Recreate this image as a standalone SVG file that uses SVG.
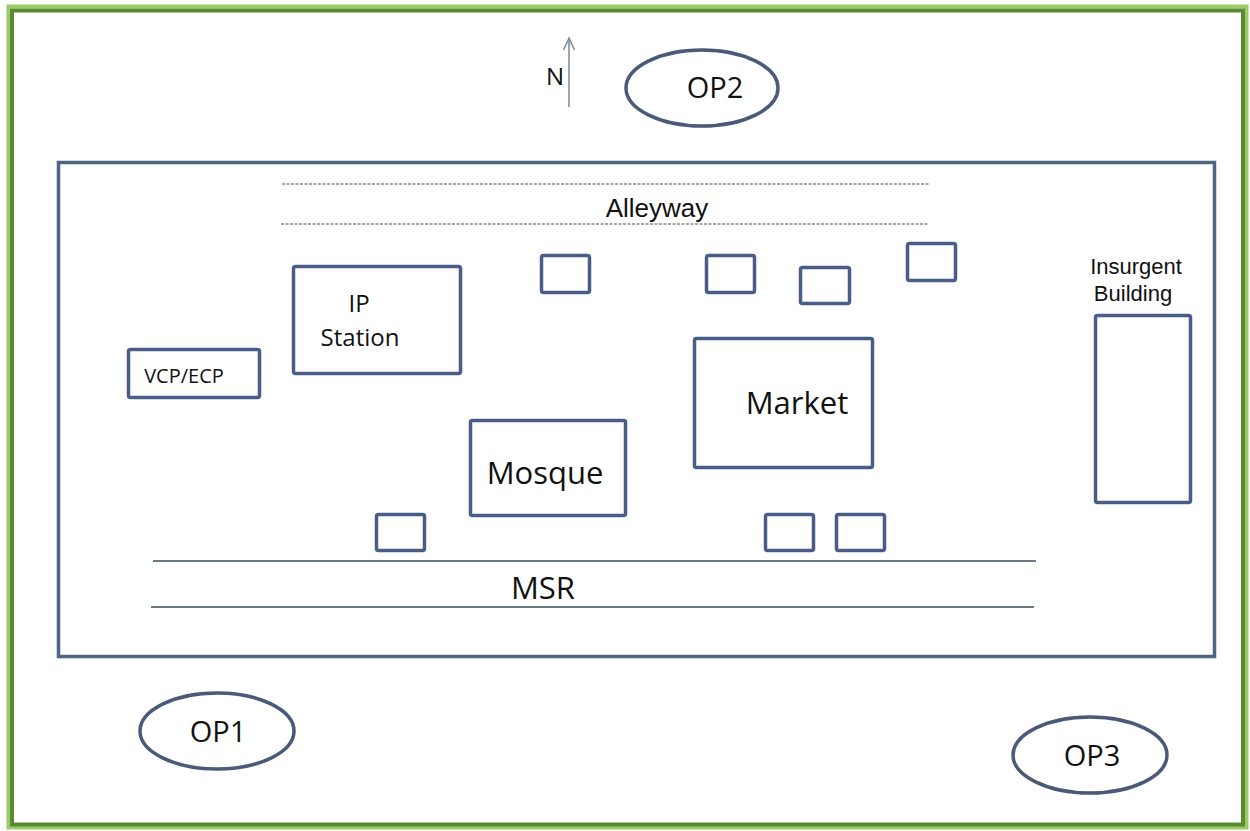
<svg xmlns="http://www.w3.org/2000/svg" width="1250" height="831" viewBox="0 0 1250 831">
<defs>
<style>
.b{fill:#fff;stroke:#4a5d88;stroke-width:3.5}
.o{fill:#fff;stroke:#4a5a78;stroke-width:3.5}
.t{font-family:"Liberation Sans",Arial,sans-serif;fill:#111;text-anchor:middle}
.c{font-family:"Open Sans","Liberation Sans",sans-serif;fill:#111;text-anchor:middle}
.road{stroke:#6c7888;stroke-width:2}
.alley{stroke:#8a8a8a;stroke-width:1.5;stroke-dasharray:3 1.5}
.arr{fill:none;stroke:#7a8898;stroke-width:1.5}
</style>
</defs>
<rect x="0" y="0" width="1250" height="831" fill="#fff"/>
<rect id="frame-outer" x="8.5" y="6.5" width="1238" height="821" fill="none" stroke="#9ccc6a" stroke-width="4"/>
<rect id="frame" x="12" y="10.5" width="1231" height="814" fill="none" stroke="#5a8a30" stroke-width="4"/>
<rect id="area" x="58.5" y="162.5" width="1156" height="494" fill="none" stroke="#4f6584" stroke-width="3.5"/>
<g id="connectors">
<line class="alley" x1="282" y1="184" x2="930" y2="184"/>
<line class="alley" x1="281" y1="224" x2="928" y2="224"/>
<line class="road" x1="153" y1="561" x2="1036" y2="561"/>
<line class="road" x1="151" y1="607" x2="1034" y2="607"/>
<line class="arr" x1="569" y1="107" x2="569" y2="38"/>
<path class="arr" d="M563.5 50 L569 38 L574.5 50"/>
</g>
<text class="c" x="555" y="85" font-size="24">N</text>
<text class="t" x="657" y="217" font-size="26">Alleyway</text>
<text class="c" x="543" y="599" font-size="31">MSR</text>
<g id="op2"><ellipse class="o" cx="702" cy="88" rx="76" ry="38"/><text class="c" x="715" y="98" font-size="29">OP2</text></g>
<g id="op1"><ellipse class="o" cx="217" cy="731" rx="77" ry="38"/><text class="c" x="218" y="742" font-size="29">OP1</text></g>
<g id="op3"><ellipse class="o" cx="1090" cy="755" rx="77" ry="38"/><text class="c" x="1092" y="766" font-size="29">OP3</text></g>
<g id="b1"><rect class="b" x="541.5" y="255.5" width="48" height="37" rx="2"/></g>
<g id="b2"><rect class="b" x="706.5" y="255.5" width="48" height="37" rx="2"/></g>
<g id="b3"><rect class="b" x="800.5" y="267.5" width="49" height="36" rx="2"/></g>
<g id="b4"><rect class="b" x="907.5" y="243.5" width="48" height="37" rx="2"/></g>
<g id="b5"><rect class="b" x="376.5" y="514.5" width="48" height="36" rx="2"/></g>
<g id="b6"><rect class="b" x="765.5" y="514.5" width="48" height="36" rx="2"/></g>
<g id="b7"><rect class="b" x="836.5" y="514.5" width="48" height="36" rx="2"/></g>
<g id="ip"><rect class="b" x="293.5" y="266.5" width="167" height="107" rx="2"/><text class="c" x="359" y="312" font-size="24">IP</text><text class="c" x="360" y="346" font-size="24">Station</text></g>
<g id="vcp"><rect class="b" x="128.5" y="349.5" width="131" height="48" rx="2"/><text class="c" x="184" y="383" font-size="20">VCP/ECP</text></g>
<g id="market"><rect class="b" x="694.5" y="338.5" width="178" height="129" rx="2"/><text class="c" x="797" y="414" font-size="31">Market</text></g>
<g id="mosque"><rect class="b" x="470.5" y="420.5" width="155" height="95" rx="2"/><text class="c" x="545" y="484" font-size="31">Mosque</text></g>
<g id="insurgent"><rect class="b" x="1095.5" y="315.5" width="95" height="187" rx="2"/><text class="t" x="1136" y="274" font-size="22">Insurgent</text><text class="t" x="1133" y="301" font-size="22">Building</text></g>
</svg>
